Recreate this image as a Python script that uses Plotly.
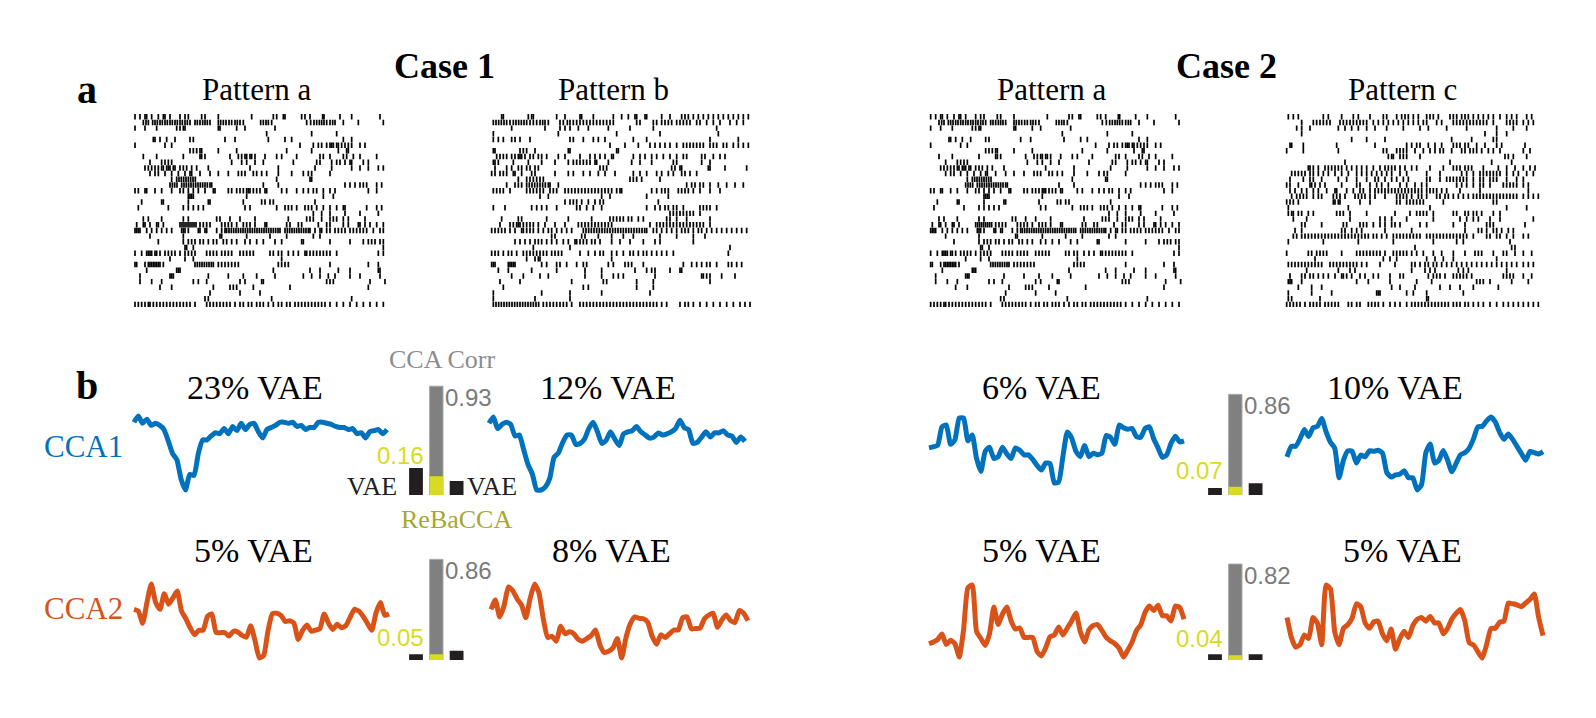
import plotly.graph_objects as go

W, H = 1596, 718
OFF = 8  # the page body has an 8px margin
FW, FH = W - 2 * OFF, H - 2 * OFF

# spike times (one list per neuron, top to bottom)
raster_a = [
    [15, 30, 45, 50, 65, 85, 100, 105, 120, 150, 165, 175, 215, 225, 265, 365, 430, 440, 460, 465, 515, 525, 540, 578, 582, 630, 665, 750],
    [40, 48, 55, 68, 75, 82, 90, 97, 105, 112, 120, 127, 135, 142, 150, 157, 165, 172, 180, 195, 202, 210, 218, 225, 232, 240, 265, 272, 280, 288, 297, 305, 315, 322, 330, 340, 392, 400, 408, 415, 425, 530, 542, 552, 560, 568, 575, 582, 590, 600, 608, 615, 640, 685, 760],
    [15, 45, 80, 140, 150, 160, 165, 265, 270, 320, 345, 435],
    [410, 545, 620],
    [70, 75, 90, 110, 135, 180, 190, 285, 315, 415, 465, 485, 640, 665],
    [15, 105, 125, 510, 550, 565, 575, 590, 600, 605, 610, 620, 625, 635, 645, 655, 665, 690, 705],
    [180, 190, 200, 210, 215, 265, 320, 470, 545, 625, 650, 655],
    [40, 80, 160, 210, 215, 225, 300, 325, 335, 345, 350, 360, 365, 375, 405, 440, 455, 500, 570, 580, 600, 640, 650, 670, 690, 740],
    [60, 95, 105, 115, 125, 305, 335, 350, 375, 400, 490, 560, 570, 605, 620, 630, 645, 660, 665, 700, 715],
    [45, 55, 65, 75, 85, 95, 100, 110, 115, 120, 130, 135, 150, 160, 170, 185, 200, 235, 360, 445, 555, 605, 665, 690, 715, 745, 760],
    [60, 75, 85, 105, 125, 145, 165, 180, 185, 210, 240, 265, 295, 325, 335, 345, 370, 380, 395, 410, 445, 485, 520, 535, 545, 600],
    [125, 140, 147, 154, 161, 168, 175, 182, 189, 196, 440, 540, 545],
    [120, 127, 134, 141, 155, 162, 169, 176, 183, 190, 197, 204, 211, 218, 225, 232, 240, 245, 400, 445, 645, 660, 675, 690, 700, 710, 740, 755],
    [15, 25, 45, 50, 75, 95, 125, 150, 160, 175, 190, 205, 225, 250, 255, 295, 305, 320, 330, 340, 350, 355, 360, 370, 380, 390, 405, 410, 455, 470, 500, 520, 535, 550, 560, 580, 600, 615, 715, 740],
    [175, 180, 185, 190, 350, 580, 610],
    [35, 95, 100, 175, 235, 240, 340, 395, 405, 420, 430, 555],
    [25, 115, 160, 175, 190, 205, 220, 345, 360, 440, 465, 475, 485, 500, 525, 535, 545, 560, 580, 600, 620, 640, 645, 710, 740, 755],
    [550, 575, 600, 645, 690, 745],
    [40, 55, 95, 160, 175, 260, 270, 300, 330, 375, 475, 530, 540, 550, 575, 600, 610, 620, 640, 655, 705],
    [20, 40, 45, 60, 80, 85, 100, 150, 156, 162, 168, 174, 180, 186, 192, 198, 210, 220, 230, 240, 275, 285, 295, 305, 320, 340, 350, 360, 375, 405, 410, 470, 480, 505, 515, 565, 590, 600, 640, 655, 685, 690, 705, 720, 740, 760],
    [15, 20, 25, 30, 50, 65, 80, 95, 110, 125, 155, 160, 165, 175, 205, 210, 225, 230, 260, 275, 285, 290, 297, 304, 311, 318, 325, 332, 339, 346, 353, 360, 367, 374, 381, 388, 395, 402, 409, 416, 423, 430, 437, 444, 450, 465, 472, 479, 486, 493, 500, 507, 514, 521, 528, 535, 540, 555, 570, 575, 590, 600, 615, 625, 635, 645, 660, 670, 680, 690, 700, 710, 730, 750, 760],
    [60, 160, 270, 275, 350, 420, 470, 550, 570],
    [85, 160, 175, 185, 195, 210, 220, 235, 250, 260, 280, 290, 305, 320, 345, 360, 380, 400, 435, 455, 515, 520, 600, 660, 700, 715, 725, 735, 750, 760],
    [165, 170, 190, 760],
    [15, 35, 50, 55, 60, 65, 75, 80, 90, 105, 115, 125, 135, 150, 165, 175, 185, 195, 230, 240, 250, 260, 275, 285, 295, 305, 330, 340, 350, 360, 370, 420, 430, 445, 455, 475, 490, 505, 525, 530, 540, 550, 560, 570, 580, 590, 600, 620, 745, 760],
    [120, 165, 190, 455],
    [15, 20, 45, 55, 60, 65, 70, 75, 80, 85, 90, 100, 195, 202, 209, 216, 223, 230, 237, 244, 250, 265, 275, 285, 295, 305, 315, 325, 445, 455, 465, 475, 600, 715, 745],
    [50, 140, 145, 150, 430, 540, 570, 625, 660, 745, 750],
    [30, 120, 125, 130, 235, 295, 340, 380, 435, 520, 545, 570, 595, 615, 660, 690, 750],
    [30, 65, 95, 190, 205, 230, 330, 345, 395, 400, 590, 600, 610, 720, 765],
    [90, 125, 250, 300, 310, 320, 370, 480, 715],
    [240, 330, 390],
    [225, 235, 425, 665],
    [15, 25, 35, 45, 55, 60, 70, 80, 90, 100, 110, 120, 130, 140, 150, 160, 170, 180, 195, 230, 240, 250, 260, 270, 280, 290, 300, 315, 330, 340, 355, 365, 380, 390, 400, 415, 430, 445, 455, 470, 480, 495, 505, 515, 525, 535, 545, 555, 565, 575, 585, 600, 620, 640, 660, 680, 700, 720, 740, 760],
]

raster_b = [
    [65, 70, 145, 155, 160, 230, 255, 300, 305, 340, 400, 425, 445, 465, 470, 495, 500, 545, 570, 605, 615, 625, 640, 655, 670, 685, 700, 715, 730, 745, 760, 775, 790, 805],
    [40, 48, 56, 64, 72, 80, 90, 100, 108, 116, 124, 132, 140, 150, 160, 170, 180, 188, 195, 205, 240, 250, 262, 270, 280, 290, 300, 310, 320, 330, 340, 350, 360, 370, 380, 390, 400, 470, 480, 520, 530, 545, 555, 565, 575, 590, 600, 610, 620, 630, 650, 660, 680, 700, 720, 750, 770, 790],
    [95, 195, 240, 255, 270, 295, 325, 385, 450, 520, 710],
    [40, 235, 410, 540, 715],
    [40, 55, 70, 95, 105, 120, 150, 270, 280, 310, 340, 355, 375, 460, 500, 690, 775],
    [390, 435, 475, 510, 525, 540, 555, 570, 590, 610, 620, 630, 640, 650, 660, 670, 690, 700, 710, 730, 740, 760, 775, 790, 805],
    [40, 45, 120, 130, 140, 165, 265, 270, 410, 415],
    [50, 60, 70, 80, 95, 105, 115, 120, 125, 135, 150, 160, 175, 185, 200, 235, 255, 300, 330, 345, 360, 375, 395, 400, 460, 480, 495, 515, 530, 550, 570, 590, 610, 620, 665, 675, 700, 720, 735],
    [40, 45, 55, 100, 145, 185, 225, 265, 280, 290, 300, 310, 320, 330, 345, 350, 385, 455, 480, 515, 580, 590, 665, 690],
    [45, 80, 95, 115, 125, 140, 150, 165, 175, 360, 370, 380, 575, 585, 600, 605, 685, 690, 735, 800],
    [35, 45, 60, 70, 80, 100, 105, 125, 155, 165, 225, 265, 280, 310, 330, 355, 375, 405, 460, 480, 500, 530, 545, 565, 580, 605, 615, 630, 650],
    [115, 140, 150, 160, 170, 180, 190, 450, 460, 470, 485, 540],
    [80, 105, 115, 125, 140, 148, 156, 164, 172, 180, 188, 196, 205, 210, 235, 620, 635, 645, 660, 670, 690, 715, 740, 765, 790],
    [40, 50, 60, 70, 90, 140, 150, 160, 170, 180, 190, 210, 220, 230, 255, 265, 275, 285, 295, 305, 315, 325, 335, 345, 355, 365, 375, 385, 395, 410, 420, 425, 515, 530, 545, 555, 565, 595, 605, 615, 625, 640, 660, 690, 720],
    [180, 205, 365, 390, 500, 565],
    [255, 270, 280, 290, 305, 325, 345, 360, 370, 535],
    [40, 75, 155, 170, 185, 200, 230, 290, 300, 320, 340, 365, 500, 525, 540, 555, 565, 580, 590, 610, 660, 670, 680, 690, 710],
    [570, 580, 590, 600, 610, 620, 630, 640, 660],
    [65, 115, 125, 200, 265, 335, 390, 400, 410, 420, 430, 445, 455, 475, 490, 560, 570, 590, 620, 690],
    [60, 90, 100, 110, 115, 120, 130, 140, 150, 160, 175, 195, 225, 255, 295, 305, 315, 325, 335, 345, 355, 365, 375, 385, 395, 510, 530, 540, 550, 560, 570, 580, 590, 600, 610, 620, 630, 640, 650, 660, 670, 690],
    [35, 45, 55, 65, 75, 90, 105, 125, 130, 140, 150, 160, 175, 190, 205, 215, 230, 245, 260, 275, 310, 318, 326, 334, 342, 350, 358, 366, 374, 382, 390, 398, 406, 414, 422, 430, 438, 446, 454, 462, 470, 478, 486, 494, 500, 520, 530, 545, 560, 575, 590, 605, 615, 625, 640, 655, 665, 680, 695, 710, 725, 740, 755, 770, 785, 800],
    [215, 225, 305, 315, 355, 395, 430, 460, 540, 590, 640, 675],
    [105, 120, 135, 150, 165, 175, 185, 200, 215, 230, 250, 265, 285, 290, 300, 310, 320, 335, 345, 360, 395, 420, 450, 490, 525, 540, 640],
    [160, 270, 750],
    [35, 45, 55, 70, 85, 95, 110, 130, 140, 150, 160, 170, 180, 190, 200, 215, 225, 235, 245, 300, 325, 345, 360, 370, 395, 410, 430, 450, 460, 475, 490, 500, 515, 530, 545, 560, 580, 745],
    [140, 165, 175, 180, 395],
    [35, 40, 45, 85, 90, 95, 100, 105, 185, 200, 230, 240, 260, 290, 310, 320, 385, 400, 435, 445, 455, 490, 610, 635, 650, 665, 680, 690, 710, 745, 755, 770, 785],
    [55, 85, 155, 230, 315, 365, 465, 500, 515, 525, 570, 600, 605],
    [95, 130, 180, 205, 315, 365, 400, 415, 430, 525, 665, 670, 680, 690, 725, 765],
    [60, 120, 275, 370, 380, 470, 520, 690],
    [70, 310, 325, 470, 520],
    [40, 185, 270, 365, 510],
    [40, 165, 270],
    [40, 48, 56, 64, 72, 80, 88, 96, 104, 112, 120, 128, 136, 144, 152, 160, 168, 176, 190, 200, 210, 220, 230, 240, 250, 260, 275, 300, 310, 320, 330, 340, 350, 360, 370, 380, 390, 400, 410, 420, 430, 440, 450, 460, 470, 480, 490, 500, 510, 520, 530, 545, 560, 600, 615, 625, 640, 660, 680, 700, 720, 740, 760, 780, 795, 810],
]

raster_c = [
    [85, 100, 115, 190, 205, 245, 280, 295, 330, 370, 380, 410, 425, 435, 445, 460, 475, 500, 510, 520, 535, 570, 580, 590, 605, 615, 625, 640, 655, 670, 685, 700, 720, 740, 755, 770, 800, 815],
    [125, 160, 170, 180, 190, 200, 210, 240, 250, 260, 270, 280, 290, 300, 310, 320, 340, 355, 370, 385, 400, 415, 430, 445, 460, 475, 490, 500, 530, 545, 580, 590, 600, 610, 620, 630, 640, 650, 660, 670, 680, 700, 740, 750, 760, 770, 790, 805, 820],
    [110, 125, 150, 235, 255, 275, 295, 320, 345, 380, 430, 480, 505, 560, 620, 710, 760, 800],
    [125, 675, 710, 740],
    [275, 320, 375, 575, 635, 700, 710],
    [90, 95, 130, 230, 345, 440, 455, 470, 480, 505, 525, 545, 580, 590, 600, 615, 625, 650, 675, 710, 725, 795],
    [80, 130, 235, 370, 380, 410, 420, 430, 440, 465, 490, 510, 525, 540, 550, 575, 605, 615, 630, 640, 650, 665, 685, 700, 720, 790, 810],
    [385, 395, 400, 420, 430, 440, 480, 735, 745, 760, 800],
    [255, 570, 695, 755],
    [145, 150, 160, 175, 195, 205, 215, 225, 235, 245, 260, 275, 290, 305, 320, 340, 360, 375, 385, 395, 405, 420, 435, 455, 470, 510, 550, 580, 590, 600, 615, 625, 635, 670, 715, 740, 765, 790, 810, 825],
    [95, 105, 115, 125, 135, 150, 160, 175, 190, 205, 225, 245, 265, 290, 305, 320, 335, 350, 365, 380, 395, 420, 440, 500, 540, 605, 620, 640, 660, 670, 680, 690, 700, 710, 720, 740, 760, 775, 800, 820],
    [90, 130, 150, 160, 185, 235, 260, 290, 320, 345, 355, 375, 395, 410, 430, 445, 500, 510, 540, 560, 570, 580, 590, 600, 610, 620, 640, 660, 670, 690, 700, 710, 740, 770, 790],
    [80, 90, 115, 150, 155, 165, 180, 195, 245, 290, 300, 330, 350, 365, 385, 420, 440, 465, 485, 500, 590, 605, 620, 640, 660, 670, 690, 730, 740, 750, 760, 770, 790, 805],
    [90, 105, 125, 140, 160, 175, 200, 225, 230, 260, 280, 300, 310, 330, 345, 355, 365, 375, 385, 395, 405, 415, 425, 435, 445, 455, 465, 475, 485, 500, 510, 520, 530, 545, 560, 600, 660, 805],
    [95, 110, 120, 130, 140, 160, 175, 185, 220, 230, 240, 255, 285, 295, 305, 315, 330, 345, 375, 410, 420, 430, 440, 455, 475, 485, 500, 530, 540, 555, 565, 580, 595, 610, 625, 640, 650, 660, 670, 680, 690, 700, 710, 720, 730, 740, 750, 760, 770, 790, 805, 820, 835],
    [80, 90, 100, 115, 220, 225, 235, 240, 300, 330, 410, 420, 440, 450, 460, 470, 480, 490, 550, 700, 710],
    [85, 265, 510, 740, 800],
    [85, 95, 100, 115, 125, 145, 160, 230, 240, 250, 270, 320, 405, 450, 470, 480, 490, 500, 520, 580, 590, 615, 625, 640, 650, 665, 700, 720],
    [100, 140, 270, 360, 375, 395, 440, 520, 600, 620, 640, 655, 690, 720, 820],
    [125, 135, 185, 250, 260, 300, 310, 320, 340, 360, 375, 395, 405, 420, 480, 500, 580, 615, 680, 690, 700, 795],
    [105, 125, 245, 255, 275, 290, 305, 375, 455, 615, 655, 665, 680, 700, 710, 725, 745, 760],
    [100, 110, 125, 135, 145, 155, 165, 175, 185, 195, 205, 215, 225, 235, 245, 255, 265, 275, 285, 295, 305, 315, 325, 340, 350, 365, 380, 400, 410, 420, 430, 440, 450, 460, 470, 480, 500, 510, 520, 530, 540, 550, 560, 570, 580, 590, 600, 610, 620, 640, 680, 690, 710, 720, 740, 760, 790, 805],
    [85, 190, 295, 400, 520, 590, 610, 750],
    [465, 755, 765],
    [80, 145, 155, 170, 180, 190, 200, 245, 290, 300, 310, 320, 330, 340, 350, 360, 375, 400, 410, 420, 430, 440, 455, 470, 490, 520, 545, 580, 615, 645, 655, 665, 700, 730, 740, 765, 790, 815],
    [165, 370, 390, 410, 500, 525, 550, 580, 710],
    [85, 95, 105, 115, 125, 135, 145, 155, 165, 175, 185, 210, 220, 230, 240, 250, 260, 270, 280, 290, 305, 320, 360, 405, 455, 465, 480, 495, 505, 520, 530, 545, 560, 575, 590, 605, 620, 635, 650, 665, 680, 695, 710, 725, 740, 755, 770, 790, 805, 820],
    [140, 235, 270, 285, 455, 495, 510, 525, 595, 610, 625, 740],
    [90, 125, 135, 150, 160, 175, 190, 205, 225, 245, 250, 260, 275, 300, 315, 340, 355, 390, 420, 430, 505, 520, 530, 540, 555, 580, 590, 600, 610, 620, 635, 730, 740, 750, 760, 790, 815],
    [85, 90, 95, 125, 290, 325, 390, 470, 515, 650, 660, 670, 690, 755, 805],
    [115, 155, 185, 395, 420, 465, 540, 570, 600, 640, 715],
    [85, 155, 215, 350, 355, 360, 440, 460, 500, 610],
    [85, 95, 180, 500, 505],
    [80, 90, 100, 110, 120, 135, 150, 160, 170, 180, 195, 205, 215, 225, 235, 265, 275, 290, 300, 325, 335, 345, 355, 370, 390, 405, 420, 440, 455, 465, 475, 485, 495, 505, 515, 525, 535, 545, 555, 565, 580, 590, 600, 615, 625, 640, 655, 670, 690, 710, 730, 745, 760, 775, 790, 805, 820, 835],
]

# canonical components (arbitrary units)
case1_cca1_a = [73, 79, 72, 76, 70, 72, 70, 66, 55, 43, 37, 18, 8, 23, 22, 43, 56, 56, 60, 63, 62, 67, 62, 69, 65, 72, 66, 71, 72, 64,
                58, 66, 68, 70, 73, 73, 72, 73, 69, 70, 66, 68, 68, 73, 73, 72, 71, 69, 68, 68, 66, 67, 62, 63, 58, 64, 65, 66, 62, 66]
case1_cca1_b = [72, 78, 67, 71, 73, 71, 60, 61, 47, 33, 24, 9, 9, 12, 20, 40, 44, 54, 61, 61, 52, 53, 57, 67, 73, 64, 53, 56, 64, 57,
                51, 62, 64, 65, 69, 64, 61, 58, 59, 63, 61, 62, 64, 67, 75, 68, 66, 53, 54, 59, 64, 59, 63, 63, 65, 61, 60, 54, 59, 55]
case1_cca2_a = [155, 150, 115, 175, 228, 175, 155, 200, 170, 188, 208, 150, 128, 102, 82, 95, 95, 135, 142, 88, 88, 88, 78, 92, 90, 80, 75, 108, 65, 15,
                22, 93, 142, 144, 138, 120, 122, 115, 68, 94, 110, 92, 95, 99, 142, 115, 97, 112, 102, 108, 132, 155, 150, 135, 115, 95, 145, 175, 138, 142]
case1_cca2_b = [150, 175, 130, 160, 210, 200, 178, 162, 128, 180, 218, 195, 125, 75, 78, 65, 105, 85, 90, 85, 70, 65, 72, 80, 95, 55, 35, 38, 47, 72,
                20, 75, 112, 130, 126, 125, 115, 78, 57, 82, 75, 85, 95, 95, 128, 130, 98, 99, 100, 125, 135, 140, 102, 122, 135, 120, 115, 147, 140, 120]
case2_cca1_a = [135, 138, 142, 195, 200, 145, 158, 220, 220, 155, 172, 105, 68, 125, 137, 105, 110, 137, 118, 105, 135, 128, 115, 115, 102, 85, 72, 92, 90, 35,
                38, 112, 180, 163, 125, 110, 142, 110, 120, 115, 120, 170, 165, 145, 200, 192, 188, 190, 167, 165, 190, 195, 160, 135, 108, 115, 148, 168, 152, 155]
case2_cca1_c = [120, 150, 150, 172, 198, 178, 203, 207, 230, 192, 162, 145, 60, 110, 137, 136, 102, 125, 120, 137, 136, 139, 131, 75, 62, 68, 70, 80, 60, 60,
                25, 40, 132, 157, 102, 110, 138, 111, 77, 102, 126, 132, 145, 172, 206, 207, 223, 234, 220, 190, 170, 185, 170, 150, 130, 110, 135, 132, 128, 135]
case2_cca2_a = [50, 55, 62, 78, 48, 60, 50, 12, 90, 210, 218, 85, 65, 45, 78, 155, 105, 135, 155, 115, 92, 95, 68, 68, 68, 28, 15, 38, 70, 75,
                98, 75, 95, 115, 138, 85, 55, 90, 102, 105, 88, 68, 58, 50, 37, 12, 32, 55, 88, 104, 140, 158, 145, 160, 130, 130, 115, 158, 154, 120]
case2_cca2_c = [120, 65, 38, 45, 72, 62, 120, 105, 45, 210, 200, 80, 45, 90, 100, 118, 158, 150, 105, 90, 108, 110, 75, 55, 88, 32, 62, 82, 65, 98,
                115, 120, 110, 123, 105, 105, 75, 90, 116, 132, 142, 110, 50, 44, 25, 8, 45, 90, 90, 107, 110, 160, 158, 155, 150, 160, 170, 185, 120, 70]

# per group: case1 CCA1, case1 CCA2, case2 CCA1, case2 CCA2
cca_corr = [0.93, 0.86, 0.86, 0.82]
rebacca_corr = [0.16, 0.05, 0.07, 0.04]
vae_first = [23, 5, 6, 5]
vae_second = [12, 8, 10, 5]

BLUE = '#0072BD'
ORANGE = '#D95319'
YELLOW = '#D7DC22'
GREY = '#808080'
DARK = '#231F20'
SERIF = 'Liberation Serif, Times New Roman, serif'
SANS = 'Liberation Sans, Arial, sans-serif'

fig = go.Figure()
n_axes = 0


def fx(px):
    return (px - OFF) / FW


def fy(py):
    return 1 - (py - OFF) / FH


def add_axes(left, right, top, bottom, xrange, yrange):
    # pixel box (page coords) -> paper domain
    global n_axes
    n_axes += 1
    s = '' if n_axes == 1 else str(n_axes)
    fig.update_layout(**{
        'xaxis' + s: dict(domain=[fx(left), fx(right)], range=xrange, visible=False,
                          anchor='y' + s, fixedrange=True),
        'yaxis' + s: dict(domain=[fy(bottom), fy(top)], range=yrange, visible=False,
                          anchor='x' + s, fixedrange=True),
    })
    return 'x' + s, 'y' + s


def add_raster(spikes, left, tmax):
    xa, ya = add_axes(left, left + tmax / 3, 113.9, 307.2, [0, tmax], [len(spikes) + 0.5, 0.5])
    xs, ys = [], []
    for i, row in enumerate(spikes, start=1):
        xs += row
        ys += [i] * len(row)
    fig.add_trace(go.Scatter(x=xs, y=ys, mode='markers', xaxis=xa, yaxis=ya, hoverinfo='skip',
                             marker=dict(symbol='line-ns-open', size=3.9, color='black',
                                         line=dict(width=1.7))))


def add_component(values, color, left, right, top, bottom):
    pad = 6
    n = len(values)
    lo, hi = min(values), max(values)
    ky = (hi - lo) / (bottom - top)
    kx = (n - 1) / (right - left)
    xa, ya = add_axes(left - pad, right + pad, top - pad, bottom + pad,
                      [-pad * kx, n - 1 + pad * kx], [lo - pad * ky, hi + pad * ky])
    fig.add_trace(go.Scatter(x=list(range(n)), y=values, mode='lines', xaxis=xa, yaxis=ya,
                             hoverinfo='skip',
                             line=dict(color=color, width=5, shape='spline', smoothing=0.5)))


def add_bar_group(g, first_center, baseline, annotate=False):
    unit = 20.3
    xa, ya = add_axes(first_center - 0.75 * unit, first_center + 2.75 * unit,
                      baseline - 117, baseline, [-0.75, 2.75], [0, 1])
    fig.add_trace(go.Bar(x=[0, 2], y=[vae_first[g] / 100, vae_second[g] / 100], width=0.68,
                         marker=dict(color=DARK, line=dict(width=0)), xaxis=xa, yaxis=ya, hoverinfo='skip'))
    fig.add_trace(go.Bar(x=[1], y=[cca_corr[g]], width=0.66,
                         marker=dict(color=GREY, line=dict(color='#a6a6a6', width=1)),
                         xaxis=xa, yaxis=ya, hoverinfo='skip'))
    fig.add_trace(go.Bar(x=[1], y=[rebacca_corr[g]], width=0.66,
                         marker=dict(color=YELLOW, line=dict(width=0)), xaxis=xa, yaxis=ya, hoverinfo='skip'))
    fig.add_annotation(x=1.33, y=cca_corr[g], xref=xa, yref=ya, text=f'{cca_corr[g]:.2f}',
                       xanchor='left', yanchor='top', xshift=0, yshift=4, showarrow=False,
                       font=dict(family=SANS, size=24, color='#7a7a7a'))
    fig.add_annotation(x=0.67, y=rebacca_corr[g], xref=xa, yref=ya, text=f'{rebacca_corr[g]:.2f}',
                       xanchor='right', yanchor='bottom', xshift=-4, yshift=5 if annotate else 1,
                       showarrow=False, font=dict(family=SANS, size=24, color=YELLOW))
    if annotate:
        fig.add_annotation(x=1, y=cca_corr[g], xref=xa, yref=ya, text='CCA Corr',
                           xanchor='center', yanchor='bottom', xshift=6, yshift=10, showarrow=False,
                           font=dict(family=SERIF, size=26, color='#8c8c8c'))
        fig.add_annotation(x=1, y=0, xref=xa, yref=ya, text='ReBaCCA',
                           xanchor='center', yanchor='top', xshift=20, yshift=-8, showarrow=False,
                           font=dict(family=SERIF, size=26, color='#A6A930'))
        fig.add_annotation(x=-0.34, y=0, xref=xa, yref=ya, text='VAE', xanchor='right',
                           yanchor='bottom', xshift=-10, yshift=-8, showarrow=False,
                           font=dict(family=SERIF, size=26, color=DARK))
        fig.add_annotation(x=2.34, y=0, xref=xa, yref=ya, text='VAE', xanchor='left',
                           yanchor='bottom', xshift=1, yshift=-8, showarrow=False,
                           font=dict(family=SERIF, size=26, color=DARK))


# rasters (a)
add_raster(raster_a, 130, 780)
add_raster(raster_b, 480, 830)
add_raster(raster_a, 910 + 47 / 3, 780)
add_raster(raster_c, 1260, 850)

# components (b)
add_component(case1_cca1_a, BLUE, 134, 387, 416, 490)
add_component(case1_cca1_b, BLUE, 489, 745, 417, 490)
add_component(case2_cca1_a, BLUE, 929, 1184, 418, 483)
add_component(case2_cca1_c, BLUE, 1287, 1543, 417, 490)
add_component(case1_cca2_a, ORANGE, 134, 389, 584, 658)
add_component(case1_cca2_b, ORANGE, 491, 748, 584, 658)
add_component(case2_cca2_a, ORANGE, 929, 1184, 585, 657)
add_component(case2_cca2_c, ORANGE, 1287, 1543, 585, 658)

add_bar_group(0, 416, 495, annotate=True)
add_bar_group(1, 416, 660)
add_bar_group(2, 1215, 495)
add_bar_group(3, 1215, 660)


def label(text, x, y, size, color='black', family=SERIF):
    fig.add_annotation(text=text, x=fx(x), y=fy(y), xref='paper', yref='paper',
                       xanchor='center', yanchor='middle',
                       showarrow=False, font=dict(family=family, size=size, color=color))


label('<b>Case 1</b>', 445, 66, 36)
label('<b>Case 2</b>', 1226, 66, 36)
label('<b>a</b>', 87, 90, 40)
label('<b>b</b>', 87, 385, 40)
for txt, x in [('Pattern a', 257), ('Pattern b', 613), ('Pattern a', 1052), ('Pattern c', 1402)]:
    label(txt, x, 90, 31)

for v, x in zip([vae_first[0], vae_second[0], vae_first[2], vae_second[2]], [255, 608, 1041, 1395]):
    label(f'{v}% VAE', x, 387, 34)
for v, x in zip([vae_first[1], vae_second[1], vae_first[3], vae_second[3]], [253, 611, 1041, 1402]):
    label(f'{v}% VAE', x, 550, 34)

label('CCA1', 83, 446, 31, BLUE)
label('CCA2', 83, 608, 31, ORANGE)

fig.update_layout(width=FW, height=FH, margin=dict(l=0, r=0, t=0, b=0),
                  paper_bgcolor='white', plot_bgcolor='rgba(0,0,0,0)',
                  showlegend=False, barmode='overlay')

fig.write_html('out.html')
